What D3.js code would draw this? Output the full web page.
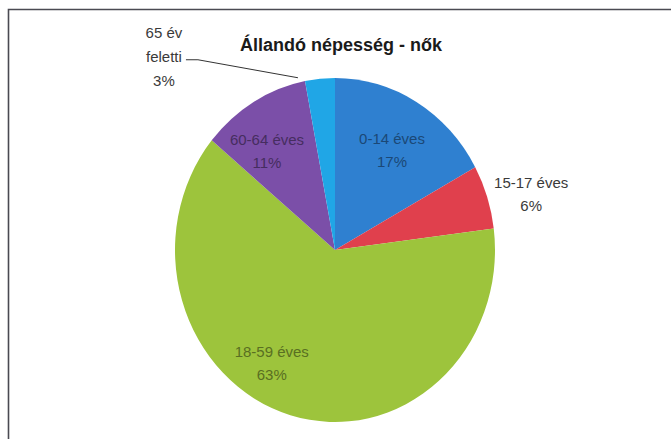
<!DOCTYPE html>
<html>
<head>
<meta charset="utf-8">
<script src="https://cdnjs.cloudflare.com/ajax/libs/d3/7.8.5/d3.min.js"></script>
<style>
  body { margin: 0; background: #fff; }
  svg text { font-family: "Liberation Sans", "DejaVu Sans", sans-serif; }
</style>
</head>
<body>
<svg width="671" height="439"></svg>
<script>
// age groups, clockwise from 12 o'clock
const groups = ["0-14 éves", "15-17 éves", "18-59 éves", "60-64 éves", "65 év feletti"];
const shares = [17, 6, 63, 11, 3];
const colors = ["#2f80d0", "#e0404d", "#9dc43c", "#7b4fa8", "#20a6e6"];
const title = "Állandó népesség - nők";

const svg = d3.select("svg");
const W = 671, H = 439;

// frame of the chart area (only top and left edges show in the scan)
svg.append("path")
  .attr("d", `M8.5,${H} V9.5 H${W}`)
  .attr("fill", "none")
  .attr("stroke", "#4a4a52")
  .attr("stroke-width", 1.6);

svg.append("text")
  .attr("x", 341)
  .attr("y", 51)
  .attr("text-anchor", "middle")
  .attr("font-size", 18)
  .attr("font-weight", "bold")
  .attr("fill", "#1a1a1a")
  .text(title);

// the scanned pie is slightly oval, so draw a circle and stretch it
const cx = 335, cy = 250, rx = 160, ry = 172;
const sx = rx / ry;

const data = groups.map((g, i) => ({ group: g, value: shares[i], color: colors[i] }));
const pie = d3.pie().value(d => d.value).sort(null);
const arcs = pie(data);
const arc = d3.arc().innerRadius(0).outerRadius(ry);
const labelArc = d3.arc().innerRadius(ry * 0.7).outerRadius(ry * 0.7);
const edgeArc = d3.arc().innerRadius(ry).outerRadius(ry);

const pieG = svg.append("g")
  .attr("transform", `translate(${cx},${cy}) scale(${sx},1)`);

pieG.selectAll("path.slice")
  .data(arcs)
  .enter()
  .append("path")
  .attr("class", "slice")
  .attr("d", arc)
  .attr("fill", d => d.data.color);

// map a point from pie space to page space
const toPage = p => [cx + p[0] * sx, cy + p[1]];

const labelG = svg.append("g");
const lineGap = 23;

// inside labels (Excel nudged them a little, the green one most)
const inside = arcs.filter(d => d.data.value >= 10);
const nudge = { "18-59 éves": [-32, -9], "60-64 éves": [-11, -1], "0-14 éves": [0, -2] };
inside.forEach(d => {
  const [x, y] = toPage(labelArc.centroid(d));
  const n = nudge[d.data.group] || [0, 0];
  const t = labelG.append("text")
    .attr("text-anchor", "middle")
    .attr("font-size", 15)
    .attr("fill", d3.color(d.data.color).darker(1.6));
  t.append("tspan").attr("x", x + n[0]).attr("y", y + n[1]).text(d.data.group);
  t.append("tspan").attr("x", x + n[0]).attr("y", y + n[1] + lineGap).text(d.data.value + "%");
});

// 15-17: outside, right of the slice
const red = arcs[1];
const redEdge = toPage(edgeArc.centroid(red));
const rt = labelG.append("text")
  .attr("text-anchor", "middle")
  .attr("font-size", 15)
  .attr("fill", "#3a3a3a");
rt.append("tspan").attr("x", redEdge[0] + 44).attr("y", redEdge[1] - 9).text(red.data.group);
rt.append("tspan").attr("x", redEdge[0] + 44).attr("y", redEdge[1] - 9 + lineGap).text(red.data.value + "%");

// 65+: far to the upper left with a leader line
const old = arcs[4];
const oldEdge = toPage(edgeArc.centroid(old));
const lx = oldEdge[0] - 156, ly = oldEdge[1] - 41;
const ot = labelG.append("text")
  .attr("text-anchor", "middle")
  .attr("font-size", 15)
  .attr("fill", "#3a3a3a");
["65 év", "feletti", old.data.value + "%"].forEach((s, i) => {
  ot.append("tspan").attr("x", lx).attr("y", ly + i * 24).text(s);
});
labelG.append("path")
  .attr("d", `M${lx + 22},${ly + 22} L${lx + 34},${ly + 22} L${oldEdge[0] - 22},${oldEdge[1] - 1}`)
  .attr("fill", "none")
  .attr("stroke", "#333")
  .attr("stroke-width", 1);
</script>
</body>
</html>
